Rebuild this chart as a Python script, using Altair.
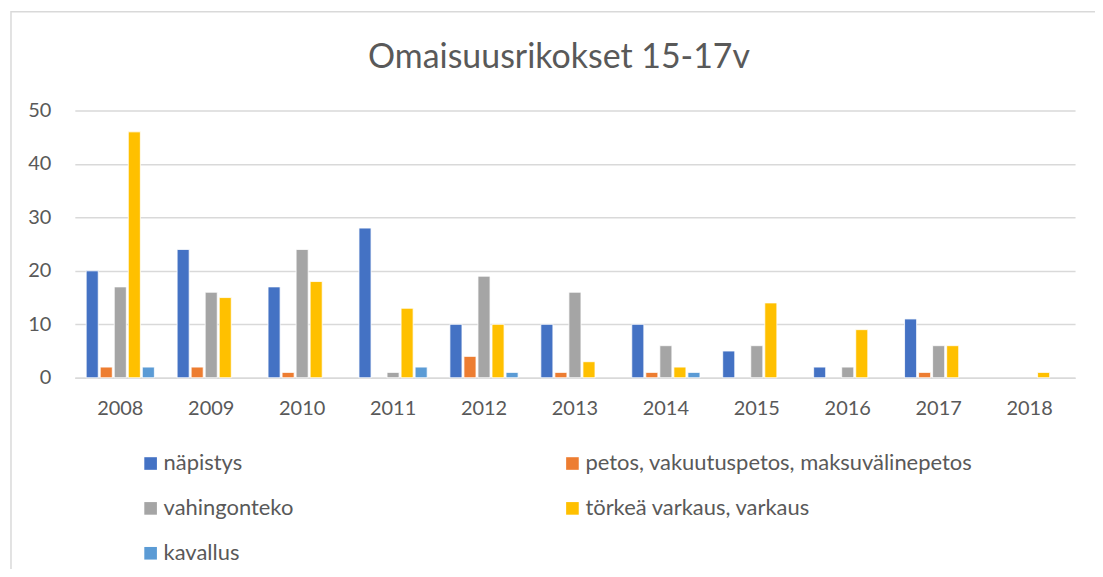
import altair as alt
import pandas as pd

years = [str(y) for y in range(2008, 2019)]
series = [
    "näpistys",
    "petos, vakuutuspetos, maksuvälinepetos",
    "vahingonteko",
    "törkeä varkaus, varkaus",
    "kavallus",
]
napistys = [20, 24, 17, 28, 10, 10, 10, 5, 2, 11, 0]
petos = [2, 2, 1, 0, 4, 1, 1, 0, 0, 1, 0]
vahingonteko = [17, 16, 24, 1, 19, 16, 6, 6, 2, 6, 0]
torkea = [46, 15, 18, 13, 10, 3, 2, 14, 9, 6, 1]
kavallus = [2, 0, 0, 2, 1, 0, 1, 0, 0, 0, 0]
colors = ["#4472C4", "#ED7D31", "#A5A5A5", "#FFC000", "#5B9BD5"]
y_ticks = [0, 10, 20, 30, 40, 50]

rows = []
for s, vals in zip(series, [napistys, petos, vahingonteko, torkea, kavallus]):
    for yr, v in zip(years, vals):
        rows.append({"year": yr, "series": s, "value": v})
df = pd.DataFrame(rows)

FONT = "Lato"
TXT = "#595959"
GRID = "#D9D9D9"

border = alt.Chart(alt.Data(values=[{"a": 1}])).mark_rect(
    fillOpacity=0, stroke=GRID, strokeWidth=1.5
).encode(
    x=alt.value(-64), x2=alt.value(1100), y=alt.value(-99), y2=alt.value(600)
)

bars = alt.Chart(df).transform_filter("datum.value > 0").mark_bar(
    stroke="white", strokeWidth=0.8
).encode(
    x=alt.X(
        "year:N",
        sort=years,
        scale=alt.Scale(domain=years, paddingInner=0.25, paddingOuter=0.125),
        axis=alt.Axis(
            title=None, labelAngle=0, ticks=False, domain=True, domainColor=GRID,
            domainWidth=1.5, labelFont=FONT, labelFontSize=20, labelColor=TXT,
            labelPadding=21, grid=False,
        ),
    ),
    xOffset=alt.XOffset(
        "series:N", scale=alt.Scale(domain=series, paddingInner=0.14, paddingOuter=0)
    ),
    y=alt.Y(
        "value:Q",
        scale=alt.Scale(domain=[0, 50]),
        axis=alt.Axis(
            title=None, values=y_ticks, ticks=False, domain=False, grid=True,
            gridColor=GRID, gridWidth=1.5, labelFont=FONT, labelFontSize=20,
            labelColor=TXT, labelPadding=24,
        ),
    ),
    color=alt.Color(
        "series:N",
        scale=alt.Scale(domain=series, range=colors),
        legend=alt.Legend(
            title=None, orient="none", legendX=65, legendY=343, columns=2,
            direction="horizontal",
            symbolType="square", symbolSize=160, symbolStrokeWidth=0,
            labelFont=FONT, labelFontSize=22, labelColor=TXT, labelOffset=2,
            labelLimit=500, rowPadding=23, columnPadding=268,
        ),
    ),
)

chart = alt.layer(border, bars).properties(
    width=1003,
    height=268,
    padding={"left": 67, "top": 102, "right": 20, "bottom": 191},
    autosize=alt.AutoSizeParams(type="none"),
    title=alt.Title(
        "Omaisuusrikokset 15-17v", font=FONT, fontSize=34, fontWeight="normal",
        color=TXT, anchor="middle", frame="group", dx=-16, offset=-91,
        baseline="alphabetic",
    ),
).configure_view(stroke=None)

chart.save("out.html", embed_options={"renderer": "svg", "actions": False})
